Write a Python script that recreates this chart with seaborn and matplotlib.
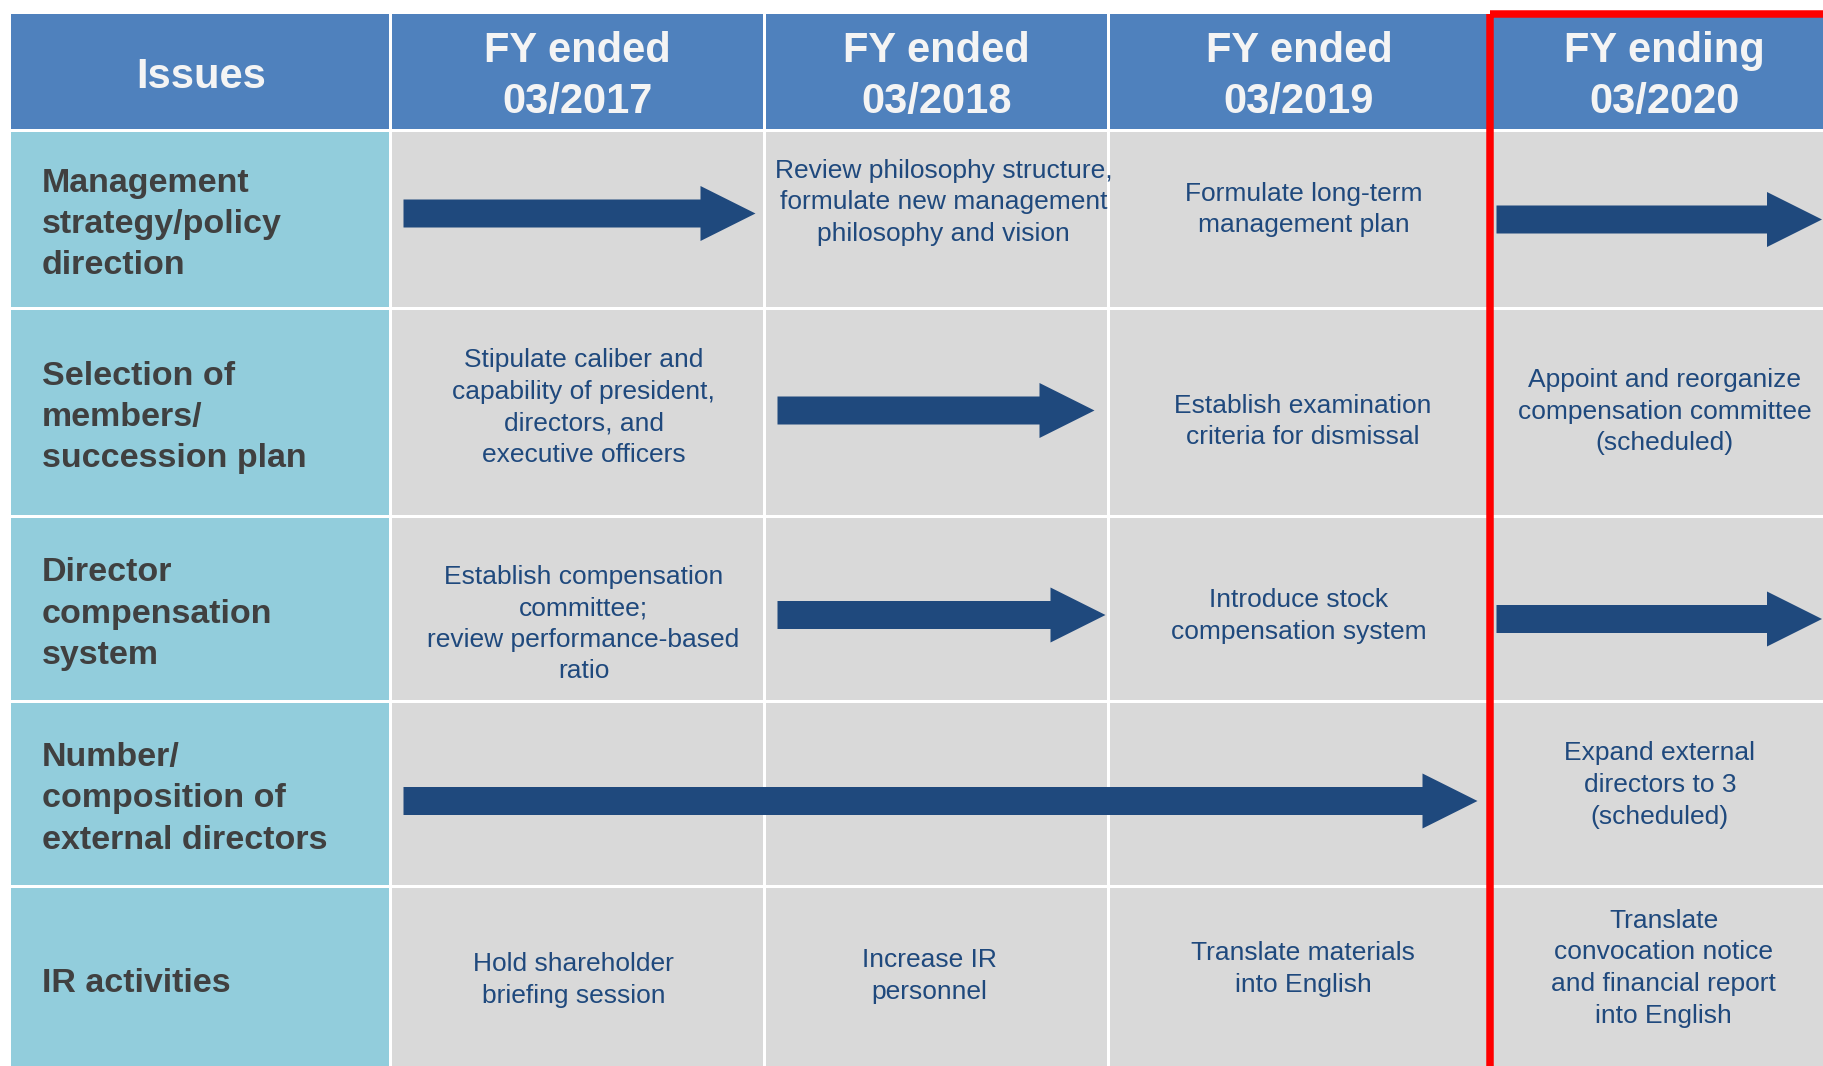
import matplotlib
matplotlib.use("Agg")
import matplotlib.pyplot as plt
from matplotlib.patches import Rectangle, Polygon
import seaborn as sns

sns.set_theme(style="white")
plt.rcParams['font.family'] = ['Liberation Sans', 'DejaVu Sans']

# ---------------- data ----------------
header_first = "Issues"
periods = ["FY ended\n03/2017", "FY ended\n03/2018", "FY ended\n03/2019", "FY ending\n03/2020"]
issues = [
    "Management\nstrategy/policy\ndirection",
    "Selection of\nmembers/\nsuccession plan",
    "Director\ncompensation\nsystem",
    "Number/\ncomposition of\nexternal directors",
    "IR activities",
]
# (issue row, period column, text)
cell_rows = [0, 0, 1, 1, 1, 2, 2, 3, 4, 4, 4, 4]
cell_cols = [1, 2, 0, 2, 3, 0, 2, 3, 0, 1, 2, 3]
cell_texts = [
    "Review philosophy structure,\nformulate new management\nphilosophy and vision",
    "Formulate long-term\nmanagement plan",
    "Stipulate caliber and\ncapability of president,\ndirectors, and\nexecutive officers",
    "Establish examination\ncriteria for dismissal",
    "Appoint and reorganize\ncompensation committee\n(scheduled)",
    "Establish compensation\ncommittee;\nreview performance-based\nratio",
    "Introduce stock\ncompensation system",
    "Expand external\ndirectors to 3\n(scheduled)",
    "Hold shareholder\nbriefing session",
    "Increase IR\npersonnel",
    "Translate materials\ninto English",
    "Translate\nconvocation notice\nand financial report\ninto English",
]
# continuing-activity arrows: issue row, first period, last period
arrow_rows = [0, 0, 1, 2, 2, 3]
arrow_start = [0, 3, 1, 1, 3, 0]
arrow_end = [0, 3, 1, 1, 3, 2]
highlight_period = 3

# ---------------- layout ----------------
W, H = 1823, 1066
col_edges = [11, 390.5, 764.5, 1108.5, 1489.5, 1840]
row_edges = [14, 130.5, 308.5, 516.5, 701.5, 886.5, 1070]
gap = 1.6
# small placement nudges (pixels) for each text block and arrow
cell_dx = [7, 5, 6, 4, 0, 6, 0, -5, -4, -7, 4, -1]
cell_dy = [-17, -10, -5, 9, -1, 15, 7, -9, 2, -2, -9, -10]
arrow_dy = [-6, 0, -2, 6, 10, 7]
arrow_tip_gap = [9, 0, 14, 3, 0, 12]

C_HEAD = "#4F81BD"
C_ISSUE = "#92CDDC"
C_CELL = "#D9D9D9"
C_ARROW = "#1F497D"
C_CELLTXT = "#1F497D"
C_ISSUETXT = "#404040"
C_HEADTXT = "#F4F4F4"

fig = plt.figure(figsize=(W / 100, H / 100), dpi=100)
ax = fig.add_axes([0, 0, 1, 1])
ax.set_xlim(0, W)
ax.set_ylim(H, 0)
ax.axis("off")


def cell(ci, ri, color):
    x0, x1 = col_edges[ci] + gap, col_edges[ci + 1] - gap
    y0, y1 = row_edges[ri] + gap, row_edges[ri + 1] - gap
    if ri == 0:
        y0 = row_edges[0]
    if ci == 0:
        x0 = col_edges[0]
    ax.add_patch(Rectangle((x0, y0), x1 - x0, y1 - y0, facecolor=color,
                           edgecolor="none", zorder=1))


def center(ci, ri):
    return ((col_edges[ci] + col_edges[ci + 1]) / 2,
            (row_edges[ri] + row_edges[ri + 1]) / 2)


# header row
n_cols = len(periods) + 1
for ci in range(n_cols):
    cell(ci, 0, C_HEAD)
xc, yc = center(0, 0)
ax.text(xc, yc + 5, header_first, ha="center", va="center", fontsize=30,
        fontweight="bold", color=C_HEADTXT, zorder=3)
for i, p in enumerate(periods):
    xc, yc = center(i + 1, 0)
    ax.text(xc, yc + 4, p, ha="center", va="center", fontsize=30,
            fontweight="bold", color=C_HEADTXT, linespacing=1.34, zorder=3)

# issue rows
for r, lab in enumerate(issues):
    cell(0, r + 1, C_ISSUE)
    for c in range(len(periods)):
        cell(c + 1, r + 1, C_CELL)
    _, yc = center(0, r + 1)
    ax.text(col_edges[0] + 31, yc + 5, lab, ha="left", va="center", fontsize=24.5,
            fontweight="bold", color=C_ISSUETXT, linespacing=1.42, zorder=3)

for r, c, t, dx, dy in zip(cell_rows, cell_cols, cell_texts, cell_dx, cell_dy):
    xc, yc = center(c + 1, r + 1)
    ax.text(xc + dx, yc + dy, t, ha="center", va="center", fontsize=19,
            color=C_CELLTXT, linespacing=1.4, zorder=3)

# arrows
body_h, head_h, head_len = 14, 27.5, 55
for r, s, e, dy, tg in zip(arrow_rows, arrow_start, arrow_end, arrow_dy, arrow_tip_gap):
    x0 = col_edges[s + 1] + (7 if s + 1 == n_cols - 1 else 13)
    x1 = min(col_edges[e + 2] - tg, W - 1)
    _, yc = center(0, r + 1)
    yc += dy
    hx = x1 - head_len
    pts = [(x0, yc - body_h), (hx, yc - body_h), (hx, yc - head_h), (x1, yc),
           (hx, yc + head_h), (hx, yc + body_h), (x0, yc + body_h)]
    ax.add_patch(Polygon(pts, closed=True, facecolor=C_ARROW, edgecolor="none",
                         zorder=2))

# highlight frame around the current fiscal year
hx0 = col_edges[highlight_period + 1]
ax.add_patch(Rectangle((hx0, 13.5), W + 50 - hx0, H + 50, facecolor="none",
                       edgecolor="#FF0000", linewidth=5.4, joinstyle="round",
                       zorder=4))

fig.savefig("out.png", dpi=100)
